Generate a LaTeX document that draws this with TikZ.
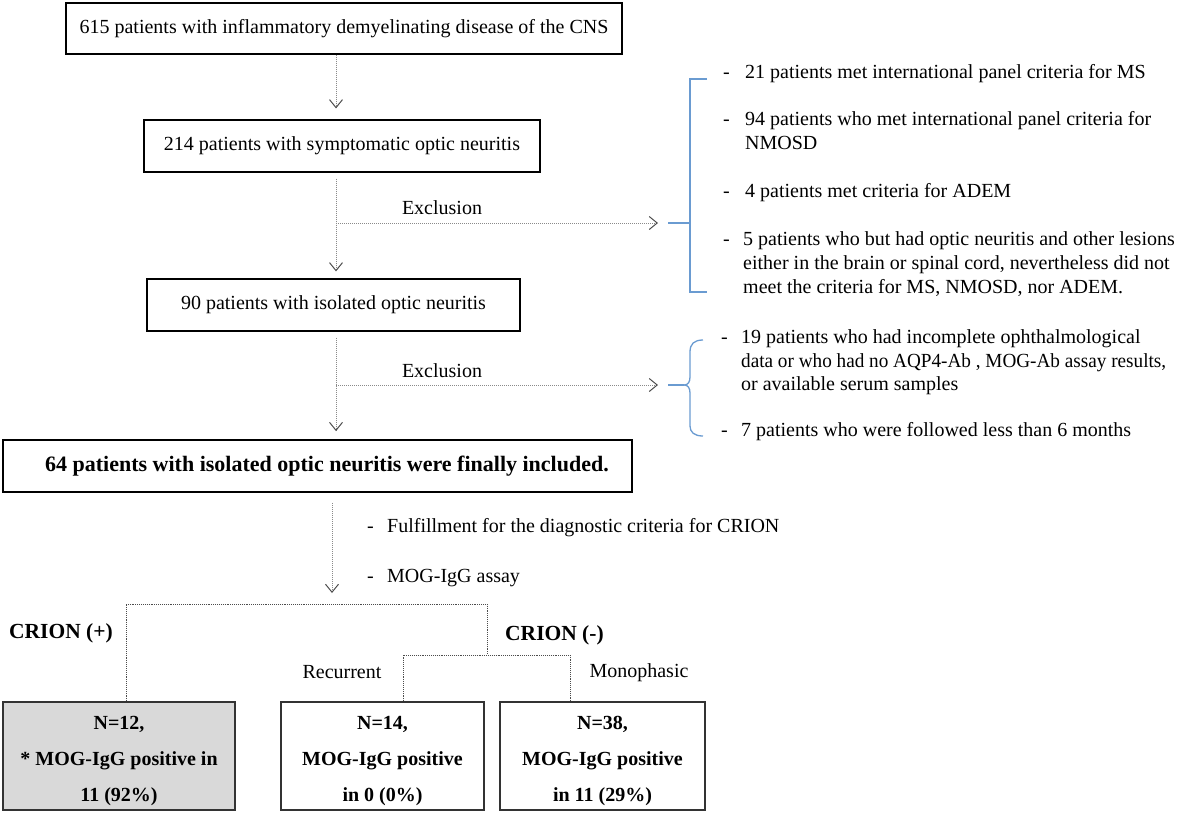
\documentclass[tikz,border=0pt]{standalone}
\usepackage{fontspec}
\usepackage{graphicx}
\setmainfont{Liberation Serif}
\usetikzlibrary{arrows.meta,calc}
\definecolor{brblue}{HTML}{6A9BD1}
\definecolor{lngray}{HTML}{8A8A8A}
\tikzset{
  box/.style={draw=black, line width=1.2pt, inner sep=0pt, font=\fontsize{20}{24}\selectfont},
  resbox/.style={draw=black!80, line width=1.8pt, inner sep=0pt, align=center, font=\bfseries\fontsize{20}{36}\selectfont},
  flow/.style={draw=lngray, line width=1pt, densely dotted, -{Straight Barb[length=8pt,width=13pt,line width=1pt,color=black!70]}},
  tree/.style={draw=black!70, line width=0.9pt, densely dotted},
  bracket/.style={draw=brblue, line width=1.3pt},
  txt/.style={inner sep=0pt, anchor=base west, font=\fontsize{20}{24}\selectfont},
  lbl/.style={inner sep=0pt, font=\fontsize{20}{24}\selectfont},
  blbl/.style={inner sep=0pt, font=\bfseries\fontsize{21.5}{26}\selectfont},
}
\begin{document}
\begin{tikzpicture}[x=1pt,y=-1pt]
\useasboundingbox (0,0) rectangle (1181,815);

% main boxes
\node[box, minimum width=556pt, minimum height=51pt] (b1) at (344,28.5) {615 patients with inflammatory demyelinating disease of the CNS};
\node[box, minimum width=396pt, minimum height=52pt] (b2) at (342,146) {214 patients with symptomatic optic neuritis};
\node[box, minimum width=373pt, minimum height=52pt] (b3) at (333.5,305) {90 patients with isolated optic neuritis};
\node[box, line width=1.8pt, minimum width=629pt, minimum height=52pt, font=\bfseries\fontsize{22}{26}\selectfont] (b4) at (317.5,466) {\hspace*{19pt}64 patients with isolated optic neuritis were finally included.};

% vertical flow
\coordinate (ax) at (336,0);
\coordinate (ax2) at (332,0);
\draw[flow, shorten >=11pt] (b1.south -| ax) -- (b2.north -| ax);
\draw[flow, shorten <=6pt, shorten >=7pt] (b2.south -| ax) -- (b3.north -| ax);
\draw[flow, shorten <=6pt, shorten >=8pt] (b3.south -| ax) -- (b4.north -| ax);
\coordinate (split) at (332,604);
\draw[flow, shorten <=10pt, shorten >=11pt] (b4.south -| ax2) -- (split);

% exclusion 1
\coordinate (e1) at (336,223);
\coordinate (k1) at (668,223);
\draw[flow, shorten >=10pt] (e1) -- (k1);
\node[lbl] (x1) at (442,208) {Exclusion};
\draw[bracket] (707,79) -- (690,79) -- (690,292) -- (707,292);
\draw[bracket] (k1) -- (690,223);

\node[txt] (d1) at (723,78) {-};
\node[txt] (l1) at (745,78) {21 patients met international panel criteria for MS};
\node[txt] (d2) at (723,125) {-};
\node[txt] (l2a) at (745,125) {94 patients who met international panel criteria for};
\node[txt] (l2b) at (745,149) {NMOSD};
\node[txt] (d3) at (723,197) {-};
\node[txt] (l3) at (745,197) {4 patients met criteria for ADEM};
\node[txt] (d4) at (723,245) {-};
\node[txt] (l4a) at (743,245) {5 patients who but had optic neuritis and other lesions};
\node[txt] (l4b) at (743,269) {either in the brain or spinal cord, nevertheless did not};
\node[txt] (l4c) at (743,293) {meet the criteria for MS, NMOSD, nor ADEM.};

% exclusion 2
\coordinate (e2) at (336,385);
\coordinate (k2) at (668,385);
\draw[flow, shorten >=10pt] (e2) -- (k2);
\node[lbl] (x2) at (442,371) {Exclusion};
\draw[bracket] (703,340) .. controls (694,340) and (690,344) .. (690,352) -- (690,377)
  .. controls (690,382) and (688,385) .. (684,385)
  .. controls (688,385) and (690,388) .. (690,393) -- (690,426)
  .. controls (690,432) and (694,436) .. (703,436);
\draw[bracket] (k2) -- (684,385);

\node[txt] (d5) at (721,343) {-};
\node[txt] (l5a) at (741,343) {19 patients who had incomplete ophthalmological};
\node[txt] (l5b) at (741,367) {\scalebox{0.96}[1]{data or who had no AQP4-Ab , MOG-Ab assay results,}};
\node[txt] (l5c) at (741,390) {or available serum samples};
\node[txt] (d6) at (721,436) {-};
\node[txt] (l6) at (741,436) {7 patients who were followed less than 6 months};

% criteria
\node[txt] (d7) at (367,532) {-};
\node[txt] (l7) at (387,532) {Fulfillment for the diagnostic criteria for CRION};
\node[txt] (d8) at (367,582) {-};
\node[txt] (l8) at (387,582) {MOG-IgG assay};

% result boxes
\node[resbox, fill=black!15, minimum width=232pt, minimum height=108pt] (r1) at (119,756) {\rule{0pt}{24pt}N=12,\\* MOG-IgG positive in\\11 (92\%)};
\node[resbox, fill=white, minimum width=203pt, minimum height=108pt] (r2) at (382.5,756) {\rule{0pt}{24pt}N=14,\\MOG-IgG positive\\in 0 (0\%)};
\node[resbox, fill=white, minimum width=205pt, minimum height=108pt] (r3) at (602.5,756) {\rule{0pt}{24pt}N=38,\\MOG-IgG positive\\in 11 (29\%)};

% tree
\coordinate (t1) at (126,604);
\coordinate (t2) at (487,604);
\coordinate (t3) at (487,654);
\coordinate (t4) at (403,655);
\coordinate (t5) at (570,655);
\draw[tree] (r1.north -| t1) -- (t1) -- (t2) -- (t3);
\draw[tree] (r2.north -| t4) |- (t5) -- (r3.north -| t5);

\node[blbl] (c1) at (61,633) {CRION (+)};
\node[blbl, anchor=west] (c2) at (505,635) {CRION (-)};
\node[lbl] (rc) at (342,672) {Recurrent};
\node[lbl] (mp) at (639,673) {Monophasic};
\end{tikzpicture}
\end{document}
